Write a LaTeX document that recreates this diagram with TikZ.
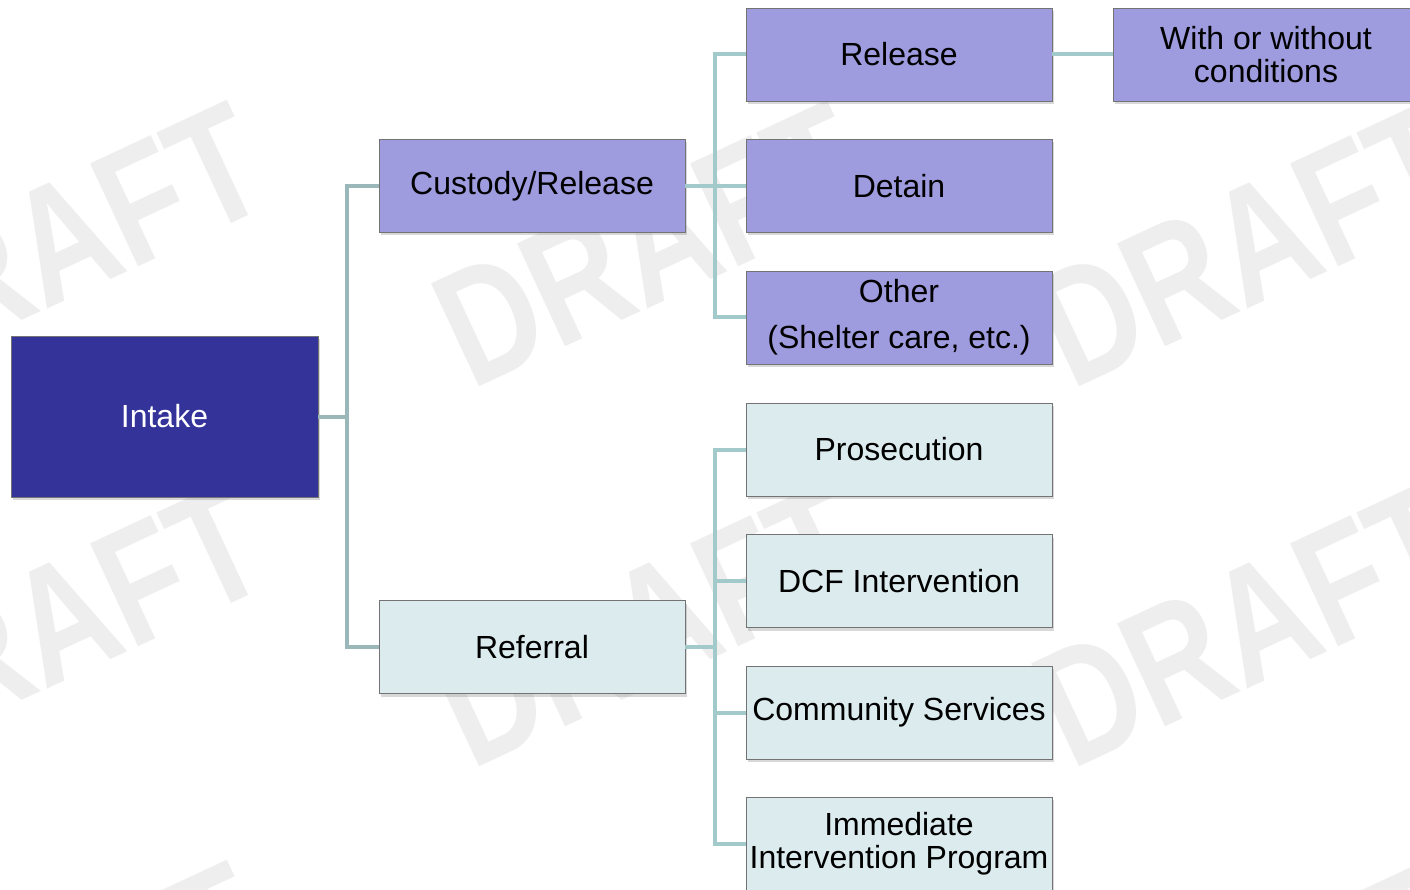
\documentclass[tikz,border=0pt]{standalone}
\usepackage{fontspec}
\setmainfont{Liberation Sans}
\usetikzlibrary{shadows}
\definecolor{darkbl}{HTML}{333399}
\definecolor{lav}{HTML}{9E9BDE}
\definecolor{pale}{HTML}{DBEBEE}
\definecolor{conna}{HTML}{9AB8BA}
\definecolor{connb}{HTML}{A2CACA}
\definecolor{wm}{HTML}{EEEEEE}
\begin{document}
\begin{tikzpicture}[x=1pt,y=-1pt,
  box/.style={draw=black!55, line width=0.8pt, minimum width=306pt, minimum height=93pt,
    inner sep=0pt, align=center, font=\fontsize{32}{33}\selectfont,
    drop shadow={shadow xshift=2pt, shadow yshift=-3pt, opacity=0.3}},
  lavbox/.style={box, fill=lav},
  palebox/.style={box, fill=pale},
  conn/.style={line width=4pt, connb, line join=miter},
  wmark/.style={text=wm, rotate=25, font=\fontsize{165}{165}\selectfont\bfseries, inner sep=0pt}]
\useasboundingbox (0,0) rectangle (1410,890);
\clip (0,0) rectangle (1410,890);
\fill[white] (0,0) rectangle (1410,890);
% watermarks
\foreach \cx in {50,650,1250}{
  \foreach \cy in {245,625,1005}{
    \node[wmark] (wm-\cx-\cy) at (\cx,\cy) {\scalebox{0.8}[1]{DRAFT}};
  }
}
% nodes
\node[box, fill=darkbl, text=white, minimum width=307pt, minimum height=161pt] (intake) at (164.5,416.5) {Intake};
\node[lavbox] (cust) at (532,186) {Custody/Release};
\node[palebox] (ref) at (532,647) {Referral};
\node[lavbox] (rel) at (899,54.5) {Release};
\node[lavbox] (det) at (899,186) {Detain};
\node[lavbox] (oth) at (899,317.5) {Other\\[13pt](Shelter care, etc.)};
\node[lavbox] (with) at (1266,54.5) {With or without\\conditions};
\node[palebox] (pros) at (899,449.5) {Prosecution};
\node[palebox] (dcf) at (899,581) {DCF Intervention};
\node[palebox] (comm) at (899,712.5) {Community Services};
\node[palebox] (imm) at (899,843.5) {Immediate\\Intervention Program};
% junction coordinates
\coordinate (j1) at (347,416.5);
\coordinate (j2) at (715,186);
\coordinate (j3) at (715,647);
% connectors
\draw[conn, conna] (intake.east) -- (j1);
\draw[conn, conna] (cust.west) -| (j1) |- (ref.west);
\draw[conn] (cust.east) -- (det.west);
\draw[conn] (rel.west) -| (j2) |- (oth.west);
\draw[conn] (ref.east) -- (j3);
\draw[conn] (pros.west) -| (j3) |- (imm.west);
\draw[conn] (dcf.west) -- (dcf.west -| j3);
\draw[conn] (comm.west) -- (comm.west -| j3);
\draw[conn] (rel.east) -- (with.west);
\end{tikzpicture}
\end{document}
